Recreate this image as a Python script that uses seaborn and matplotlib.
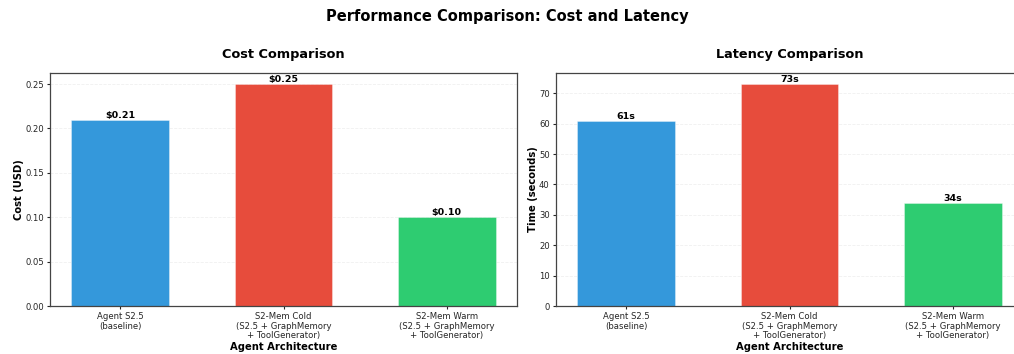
import matplotlib
matplotlib.use("Agg")
import matplotlib.pyplot as plt
import seaborn as sns
import pandas as pd

architectures = [
    "Agent S2.5\n(baseline)",
    "S2-Mem Cold\n(S2.5 + GraphMemory\n+ ToolGenerator)",
    "S2-Mem Warm\n(S2.5 + GraphMemory\n+ ToolGenerator)",
]
cost_usd = [0.21, 0.25, 0.10]
latency_s = [61, 73, 34]
bar_colors = ["#3498db", "#e74c3c", "#2ecc71"]

sns.set_style("ticks")
plt.rcParams["font.family"] = ["DejaVu Sans"]
plt.rcParams["text.color"] = "black"
plt.rcParams["axes.labelcolor"] = "black"

fig = plt.figure(figsize=(10.14, 3.54), dpi=100)
ax_cost = fig.add_axes([50 / 1014, 1 - 306 / 354, 467 / 1014, 233 / 354])
ax_lat = fig.add_axes([556 / 1014, 1 - 306 / 354, 467 / 1014, 233 / 354])

df = pd.DataFrame({"arch": architectures, "cost": cost_usd, "latency": latency_s})
palette = dict(zip(architectures, bar_colors))


def draw(ax, col, title, ylabel, fmt):
    sns.barplot(data=df, x="arch", y=col, hue="arch", palette=palette,
                width=0.6, legend=False, ax=ax, saturation=1,
                edgecolor=(1, 1, 1, 0.4), linewidth=0.6)
    vmax = df[col].max()
    ax.set_xlim(-0.43, 2.43)
    ax.set_ylim(0, vmax * 1.05)
    for i, v in enumerate(df[col]):
        ax.text(i, v, fmt(v), ha="center", va="bottom",
                fontsize=6.8, fontweight="bold", color="black")
    ax.set_title(title, fontsize=9.3, fontweight="bold", pad=11, color="black")
    ax.set_ylabel(ylabel, fontsize=7.2, fontweight="bold", labelpad=1)
    ax.set_xlabel("Agent Architecture", fontsize=7.2, fontweight="bold", labelpad=1)
    ax.tick_params(axis="both", labelsize=6.1, colors="#262626", length=2.5,
                   width=0.8, pad=2)
    for lab in ax.get_xticklabels():
        lab.set_linespacing(1.08)
    ax.grid(axis="y", linestyle="--", alpha=0.3, linewidth=0.6)
    ax.set_axisbelow(True)
    for s in ax.spines.values():
        s.set_color("#444444")
        s.set_linewidth(0.9)


draw(ax_cost, "cost", "Cost Comparison", "Cost (USD)", lambda v: f"${v:.2f}")
draw(ax_lat, "latency", "Latency Comparison", "Time (seconds)", lambda v: f"{v:.0f}s")

fig.suptitle("Performance Comparison: Cost and Latency", fontsize=10.5,
             fontweight="bold", y=0.975, color="black")

fig.savefig("out.png", dpi=100)
